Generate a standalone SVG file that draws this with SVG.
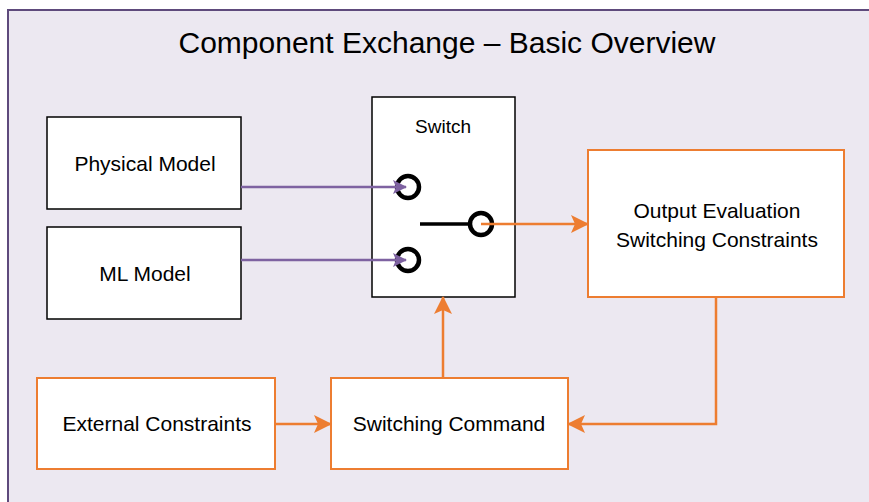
<svg xmlns="http://www.w3.org/2000/svg" width="869" height="502" viewBox="0 0 869 502">
<style>
.t{font-family:"Liberation Sans",Arial,sans-serif;font-size:21px;fill:#000;text-anchor:middle}
.bk{fill:#fff;stroke:#000;stroke-width:1.5}
.or{fill:#fff;stroke:#ed7d31;stroke-width:2}
.pl{stroke:#7e62a1;stroke-width:2.5;fill:none}
.ol{stroke:#ed7d31;stroke-width:2.5;fill:none}
.ring{fill:none;stroke:#000;stroke-width:4.5}
</style>
<defs>
<marker id="ap" markerWidth="14" markerHeight="14" refX="13" refY="7" orient="auto" markerUnits="userSpaceOnUse" viewBox="0 0 14 14"><path d="M0,0 L14,7 L0,14 L3,7 z" fill="#7e62a1"/></marker>
<marker id="ao" markerWidth="18" markerHeight="18" refX="17" refY="9" orient="auto" markerUnits="userSpaceOnUse" viewBox="0 0 18 18"><path d="M0,0 L18,9 L0,18 L4,9 z" fill="#ed7d31"/></marker>
</defs>
<rect x="8" y="10" width="880" height="520" fill="#ece8f1" stroke="#5e4a7c" stroke-width="2"/>
<text x="447" y="53" class="t" style="font-size:30px">Component Exchange – Basic Overview</text>
<g id="physical"><rect class="bk" x="47" y="117" width="194" height="92"/><text class="t" x="145" y="171">Physical Model</text></g>
<g id="ml"><rect class="bk" x="47" y="227" width="194" height="92"/><text class="t" x="145" y="281">ML Model</text></g>
<g id="switch"><rect class="bk" x="372" y="97" width="143" height="200"/><text class="t" x="443" y="133" style="font-size:19px">Switch</text>
<line x1="420" y1="224" x2="470" y2="224" stroke="#000" stroke-width="3.5"/>
<circle class="ring" cx="408" cy="187" r="11"/><circle class="ring" cx="408" cy="260" r="11"/><circle class="ring" cx="481" cy="224" r="11"/></g>
<g id="output"><rect class="or" x="588" y="150" width="256" height="147"/><text class="t" x="717" y="218">Output Evaluation</text><text class="t" x="717" y="247">Switching Constraints</text></g>
<g id="external"><rect class="or" x="37" y="378" width="238" height="91"/><text class="t" x="157" y="431">External Constraints</text></g>
<g id="command"><rect class="or" x="331" y="378" width="237" height="91"/><text class="t" x="449" y="431">Switching Command</text></g>
<g id="connectors">
<line class="pl" x1="241" y1="187" x2="406" y2="187" marker-end="url(#ap)"/>
<line class="pl" x1="241" y1="260" x2="406" y2="260" marker-end="url(#ap)"/>
<line class="ol" x1="481" y1="224" x2="588" y2="224" marker-end="url(#ao)"/>
<polyline class="ol" points="716,297 716,424 568,424" marker-end="url(#ao)"/>
<line class="ol" x1="275" y1="424" x2="331" y2="424" marker-end="url(#ao)"/>
<line class="ol" x1="443" y1="378" x2="443" y2="297" marker-end="url(#ao)"/>
</g>
</svg>
